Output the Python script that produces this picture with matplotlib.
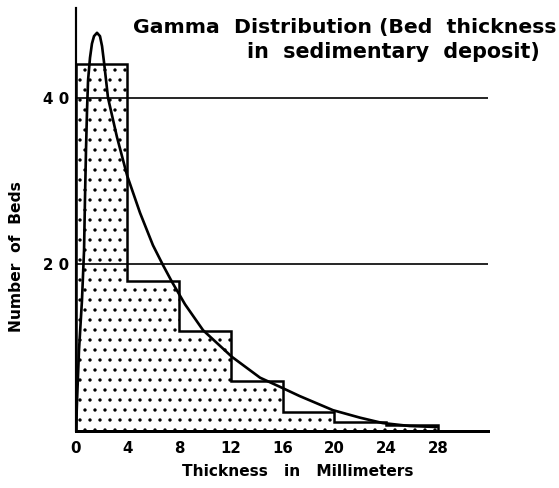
import matplotlib
matplotlib.use("Agg")
import matplotlib.pyplot as plt

# ---- data ----
bin_edges = [0, 4, 8, 12, 16, 20, 24, 28]
bin_counts = [44, 18, 12, 6, 2.3, 1.1, 0.7]

curve_x = [0.04, 0.12, 0.27, 0.50, 0.66, 0.73, 0.81, 0.89, 0.97, 1.12, 1.27, 1.43,
           1.66, 1.89, 2.05, 2.20, 2.36, 2.51, 3.20, 3.98, 4.98, 5.98, 6.76, 7.45,
           8.46, 9.85, 12.08, 14.25, 15.79, 17.3, 19.88, 21.97, 23.7, 25.8, 27.9]
curve_y = [0.0, 3.7, 9.7, 15.7, 21.7, 27.7, 33.7, 38.5, 42.1, 44.8, 46.5, 47.4,
           47.8, 47.4, 46.2, 44.3, 42.1, 40.0, 35.3, 30.7, 26.2, 22.3, 19.9, 17.9,
           15.2, 12.1, 8.9, 6.4, 5.3, 4.2, 2.5, 1.6, 0.96, 0.6, 0.48]

x_ticks = [0, 4, 8, 12, 16, 20, 24, 28]
x_tick_labels = ["0", "4", "8", "12", "16", "20", "24", "28"]
y_ticks = [20, 40]
y_tick_labels = ["2 0", "4 0"]
grid_levels = [20, 40]

title_line1 = "Gamma  Distribution (Bed  thickness"
title_line2 = "in  sedimentary  deposit)"
x_label = "Thickness   in   Millimeters"
y_label = "Number  of  Beds"

# ---- figure ----
W, H, DPI = 559, 488, 120
plt.rcParams['font.family'] = ['DejaVu Sans']
plt.rcParams['hatch.linewidth'] = 0.8
fig = plt.figure(figsize=(W / DPI, H / DPI), dpi=DPI)
fig.patch.set_facecolor('white')

ax_l, ax_r, ax_t, ax_b = 75.5, 488, 8, 431
ax = fig.add_axes([ax_l / W, 1 - ax_b / H, (ax_r - ax_l) / W, (ax_b - ax_t) / H])
ax.set_xlim(0, (ax_r - ax_l) / 12.95)
ax.set_ylim(0, (ax_b - ax_t) / 8.33)

ax.stairs(bin_counts, bin_edges, fill=True, facecolor='white', edgecolor='black',
          hatch='..', linewidth=0, zorder=2)
ax.stairs(bin_counts, bin_edges, fill=False, edgecolor='black', linewidth=1.5,
          baseline=0, zorder=3)

for lv in grid_levels:
    ax.axhline(lv, color='black', linewidth=1.0, zorder=4)

ax.plot(curve_x, curve_y, color='black', linewidth=1.6, zorder=5,
        solid_joinstyle='round', solid_capstyle='round')

for s in ['top', 'right']:
    ax.spines[s].set_visible(False)
ax.spines['left'].set_linewidth(1.3)
ax.spines['bottom'].set_linewidth(1.8)
ax.spines['left'].set_zorder(6)
ax.spines['bottom'].set_zorder(6)

ax.set_xticks(x_ticks)
ax.set_xticklabels(x_tick_labels, fontsize=9, fontweight='bold')
ax.set_yticks(y_ticks)
ax.set_yticklabels(y_tick_labels, fontsize=9, fontweight='bold')
ax.tick_params(axis='both', length=0)
ax.tick_params(axis='x', pad=6)
ax.tick_params(axis='y', pad=4)
ax.set_facecolor('white')

def px(x, y):
    return x / W, 1 - y / H

fig.text(*px(133, 28), title_line1, fontsize=12.2, fontweight='bold',
         ha='left', va='center')
fig.text(*px(247, 52), title_line2, fontsize=12.4, fontweight='bold',
         ha='left', va='center')
fig.text(*px(298, 472), x_label, fontsize=9.2, fontweight='bold',
         ha='center', va='center')
fig.text(*px(17, 257), y_label, fontsize=9.3, fontweight='bold',
         ha='center', va='center', rotation=90)

fig.savefig('out.png', dpi=DPI, facecolor='white')
